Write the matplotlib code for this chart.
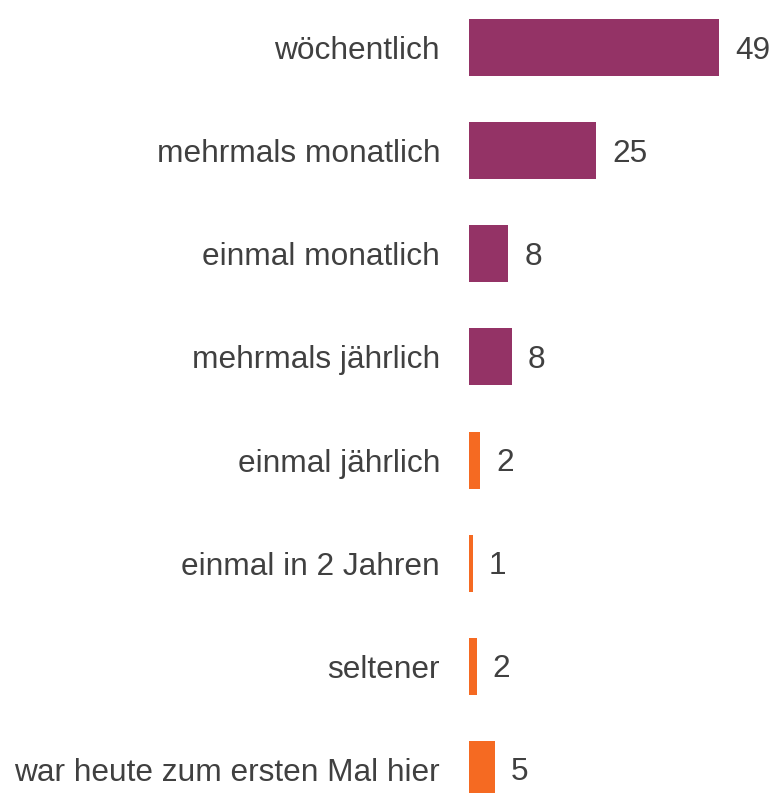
import matplotlib
matplotlib.use("Agg")
import matplotlib.pyplot as plt

categories = ["wöchentlich", "mehrmals monatlich", "einmal monatlich", "mehrmals jährlich",
              "einmal jährlich", "einmal in 2 Jahren", "seltener", "war heute zum ersten Mal hier"]
values = [49.0, 24.9, 7.8, 8.4, 2.3, 0.8, 1.6, 5.1]
labels = ["49", "25", "8", "8", "2", "1", "2", "5"]
groups = ["a", "a", "a", "a", "b", "b", "b", "b"]
colors_map = {"a": "#943366", "b": "#F56A22"}

plt.rcParams['font.family'] = ['Liberation Sans', 'DejaVu Sans']
text_color = "#404040"
fs = 22.8

fig = plt.figure(figsize=(7.74, 7.93), dpi=100)
ax = fig.add_axes([468.5 / 774, 0, 1 - 468.5 / 774, 1])
ypos = list(range(len(categories)))
ax.barh(ypos, values, height=0.553, color=[colors_map[g] for g in groups], zorder=2)
for y, v, lab in zip(ypos, values, labels):
    ax.annotate(lab, (v, y), xytext=(11.5, -2.3), textcoords="offset points",
                va="center", ha="left", fontsize=fs, color=text_color)
ax.set_xlim(0, (774 - 468.5) / 5.12)
ax.set_ylim(7.23, -0.462)
ax.set_yticks(ypos)
ax.set_yticklabels(categories, fontsize=fs, color=text_color)
ax.tick_params(axis="y", length=0, pad=20.5)
ax.set_xticks([])
for s in ax.spines.values():
    s.set_visible(False)
fig.savefig("out.png", dpi=100)
